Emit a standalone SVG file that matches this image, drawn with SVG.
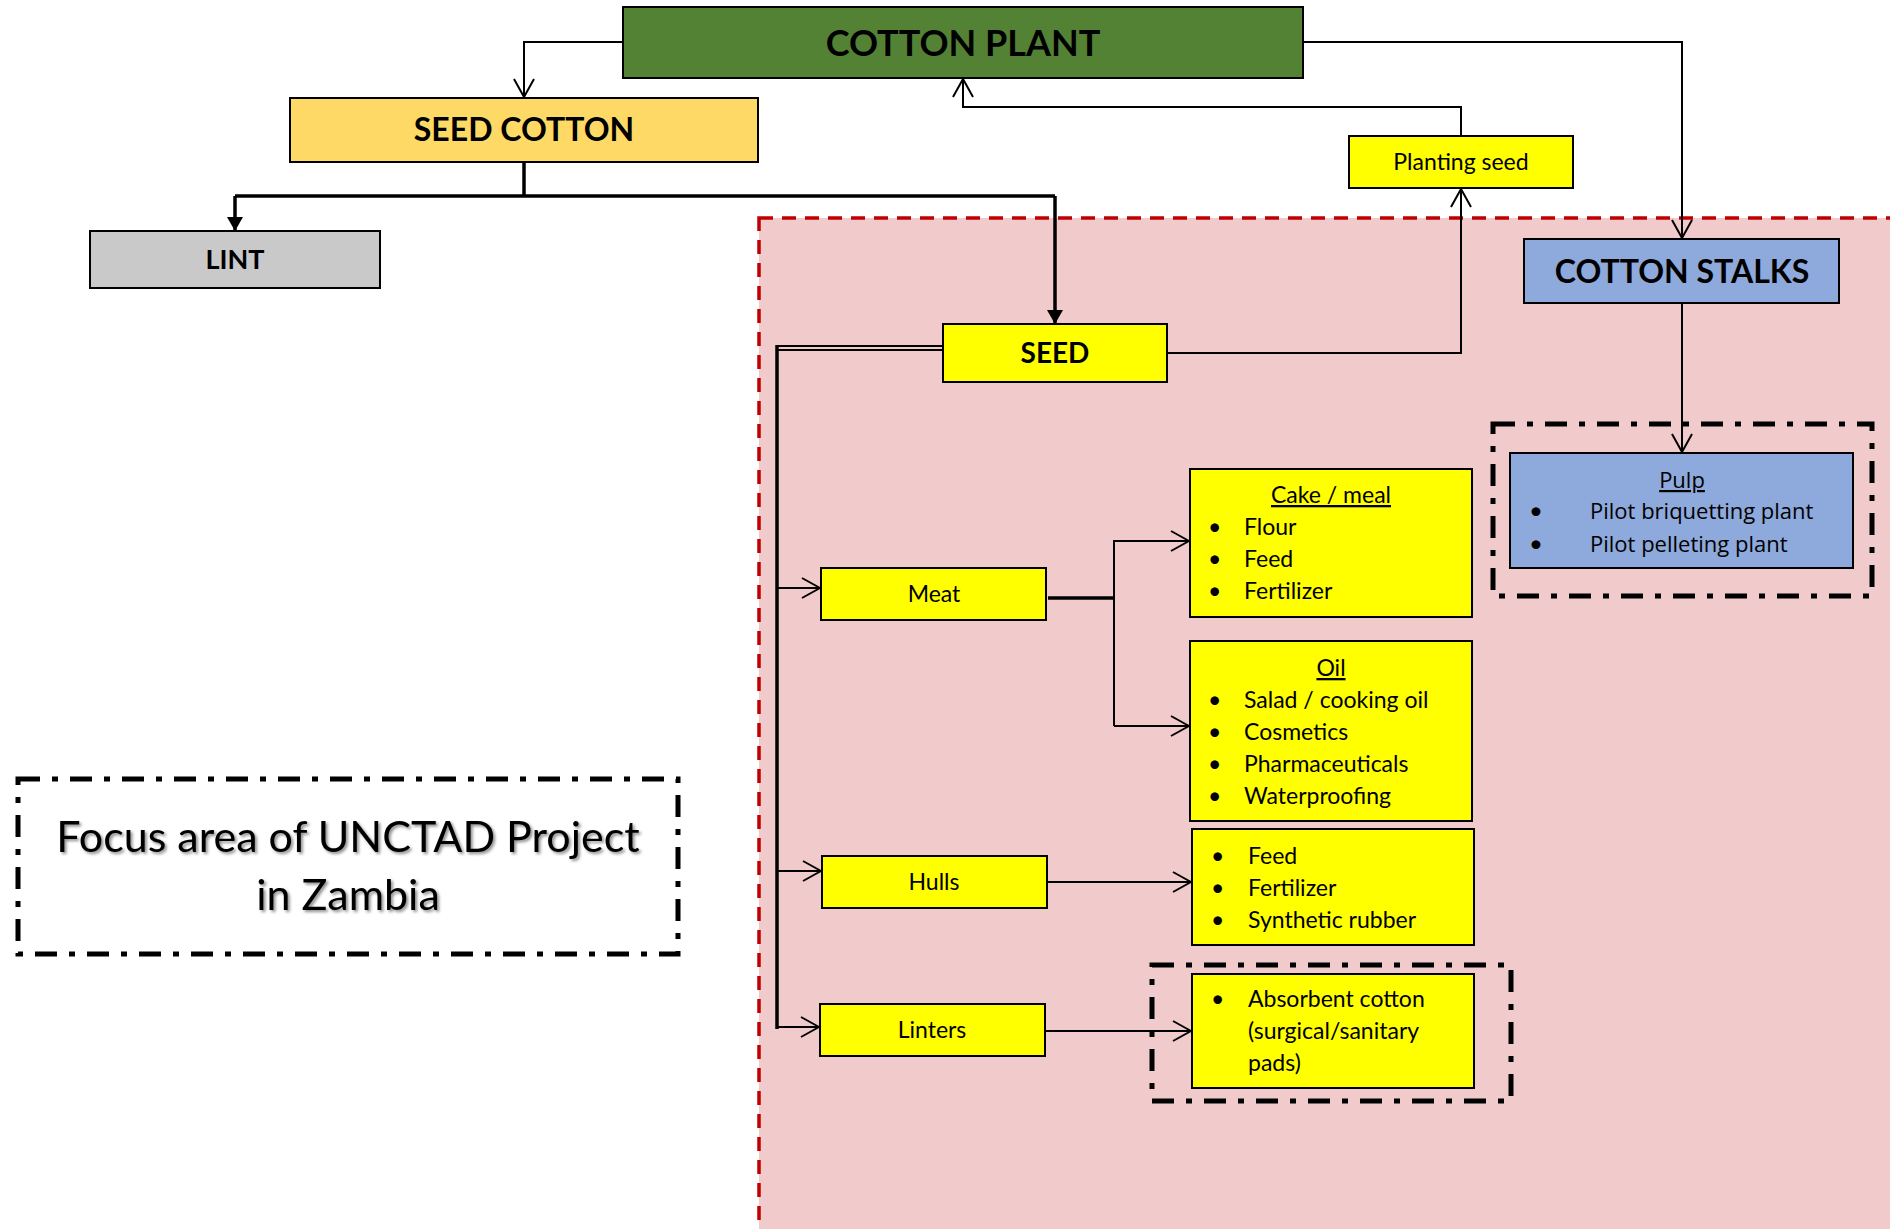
<svg xmlns="http://www.w3.org/2000/svg" width="1890" height="1229" viewBox="0 0 1890 1229">
<style>
.box{stroke:#000;stroke-width:2}
.y{fill:#FFFF00}
.t{font-family:Lato,"Liberation Sans",sans-serif;fill:#000}
.b{font-weight:bold}
.c{text-anchor:middle}
.s{font-size:23px}
.con{fill:none;stroke:#000;stroke-width:2}
.thick{fill:none;stroke:#000;stroke-width:3.5}
.dd{fill:none;stroke:#000;stroke-width:5;stroke-dasharray:22 12 6 12}
.p{font-family:"Open Sans","Noto Sans",sans-serif;font-size:22px;fill:#000}
.pb{font-family:Lato,"Liberation Sans",sans-serif;font-size:24px;fill:#000}
</style>
<defs>
<marker id="open" viewBox="0 0 20 22" refX="19" refY="11" markerWidth="20" markerHeight="22" markerUnits="userSpaceOnUse" orient="auto">
<path d="M1,1 L19,11 L1,21" fill="none" stroke="#000" stroke-width="2"/>
</marker>
<marker id="solid" viewBox="0 0 14 16" refX="14" refY="8" markerWidth="14" markerHeight="16" markerUnits="userSpaceOnUse" orient="auto">
<path d="M0,0 L14,8 L0,16 z" fill="#000"/>
</marker>
<filter id="sh" x="-5%" y="-20%" width="110%" height="140%">
<feDropShadow dx="2" dy="2" stdDeviation="1.5" flood-color="#000" flood-opacity="0.45"/>
</filter>
</defs>
<rect width="1890" height="1229" fill="#fff"/>
<g id="focus-region">
<rect x="759" y="218" width="1150" height="1030" fill="#F1CBCC" stroke="#C00000" stroke-width="3.5" stroke-dasharray="14 9"/>
</g>
<g id="connectors">
<path class="con" d="M623,42 H524 V97" marker-end="url(#open)"/>
<path class="con" d="M1303,42 H1682 V238" marker-end="url(#open)"/>
<path class="con" d="M1461,136 V107 H963 V79" marker-end="url(#open)"/>
<path class="con" d="M1167,353 H1461 V189" marker-end="url(#open)"/>
<path class="thick" d="M524,162 V196"/>
<path class="thick" d="M235,196 H1055"/>
<path class="thick" d="M235,196 V231" marker-end="url(#solid)"/>
<path class="thick" d="M1055,196 V324" marker-end="url(#solid)"/>
<path class="con" d="M1682,303 V452" marker-end="url(#open)"/>
<path class="con" d="M943,346 H776"/>
<path class="con" d="M943,350 H778"/>
<path class="thick" d="M777,345 V1029"/>
<path class="con" d="M777,588 H820" marker-end="url(#open)"/>
<path class="con" d="M777,871 H821" marker-end="url(#open)"/>
<path class="con" d="M777,1027 H819" marker-end="url(#open)"/>
<path class="thick" d="M1048,598 H1114"/>
<path class="con" d="M1114,726 V541 H1189" marker-end="url(#open)"/>
<path class="con" d="M1114,726 H1189" marker-end="url(#open)"/>
<path class="con" d="M1047,882 H1191" marker-end="url(#open)"/>
<path class="con" d="M1045,1031 H1191" marker-end="url(#open)"/>
</g>
<g id="cotton-plant">
<rect class="box" x="623" y="7" width="680" height="71" fill="#548235"/>
<text class="t b c" x="963" y="56" font-size="36">COTTON PLANT</text>
</g>
<g id="seed-cotton">
<rect class="box" x="290" y="98" width="468" height="64" fill="#FFD966"/>
<text class="t b c" x="524" y="141" font-size="32">SEED COTTON</text>
</g>
<g id="lint">
<rect class="box" x="90" y="231" width="290" height="57" fill="#C9C9C9"/>
<text class="t b c" x="235" y="269" font-size="27">LINT</text>
</g>
<g id="planting-seed">
<rect class="box y" x="1349" y="136" width="224" height="52"/>
<text class="t c s" x="1461" y="170">Planting seed</text>
</g>
<g id="cotton-stalks">
<rect class="box" x="1524" y="239" width="315" height="64" fill="#8EA9DB"/>
<text class="t b c" x="1682" y="283" font-size="32">COTTON STALKS</text>
</g>
<g id="seed">
<rect class="box y" x="943" y="324" width="224" height="58"/>
<text class="t b c" x="1055" y="363" font-size="28">SEED</text>
</g>
<g id="pulp">
<rect class="dd" x="1493" y="424" width="379" height="172"/>
<rect class="box" x="1510" y="453" width="343" height="115" fill="#8EA9DB"/>
<text class="p c" x="1682" y="488" text-decoration="underline">Pulp</text>
<text class="pb" x="1529" y="519">•</text>
<text class="p" x="1590" y="519">Pilot briquetting plant</text>
<text class="pb" x="1529" y="552">•</text>
<text class="p" x="1590" y="552">Pilot pelleting plant</text>
</g>
<g id="cake-meal">
<rect class="box y" x="1190" y="469" width="282" height="148"/>
<text class="t s c" x="1331" y="503" text-decoration="underline">Cake / meal</text>
<text class="t s" x="1208" y="535">•</text><text class="t s" x="1244" y="535">Flour</text>
<text class="t s" x="1208" y="567">•</text><text class="t s" x="1244" y="567">Feed</text>
<text class="t s" x="1208" y="599">•</text><text class="t s" x="1244" y="599">Fertilizer</text>
</g>
<g id="meat">
<rect class="box y" x="821" y="568" width="225" height="52"/>
<text class="t s c" x="934" y="602">Meat</text>
</g>
<g id="oil">
<rect class="box y" x="1190" y="641" width="282" height="180"/>
<text class="t s c" x="1331" y="676" text-decoration="underline">Oil</text>
<text class="t s" x="1208" y="708">•</text><text class="t s" x="1244" y="708">Salad / cooking oil</text>
<text class="t s" x="1208" y="740">•</text><text class="t s" x="1244" y="740">Cosmetics</text>
<text class="t s" x="1208" y="772">•</text><text class="t s" x="1244" y="772">Pharmaceuticals</text>
<text class="t s" x="1208" y="804">•</text><text class="t s" x="1244" y="804">Waterproofing</text>
</g>
<g id="hulls">
<rect class="box y" x="822" y="856" width="225" height="52"/>
<text class="t s c" x="934" y="890">Hulls</text>
</g>
<g id="hulls-uses">
<rect class="box y" x="1192" y="829" width="282" height="116"/>
<text class="t s" x="1211" y="864">•</text><text class="t s" x="1248" y="864">Feed</text>
<text class="t s" x="1211" y="896">•</text><text class="t s" x="1248" y="896">Fertilizer</text>
<text class="t s" x="1211" y="928">•</text><text class="t s" x="1248" y="928">Synthetic rubber</text>
</g>
<g id="linters">
<rect class="box y" x="820" y="1004" width="225" height="52"/>
<text class="t s c" x="932" y="1038">Linters</text>
</g>
<g id="absorbent-cotton">
<rect class="dd" x="1152" y="965" width="359" height="136"/>
<rect class="box y" x="1192" y="974" width="282" height="114"/>
<text class="t s" x="1211" y="1007">•</text><text class="t s" x="1248" y="1007">Absorbent cotton</text>
<text class="t s" x="1248" y="1039">(surgical/sanitary</text>
<text class="t s" x="1248" y="1071">pads)</text>
</g>
<g id="focus-legend">
<rect class="dd" x="18" y="779" width="660" height="175"/>
<text class="t c" x="348" y="852" font-size="43" filter="url(#sh)">Focus area of UNCTAD Project</text>
<text class="t c" x="348" y="910" font-size="43" filter="url(#sh)">in Zambia</text>
</g>
</svg>
